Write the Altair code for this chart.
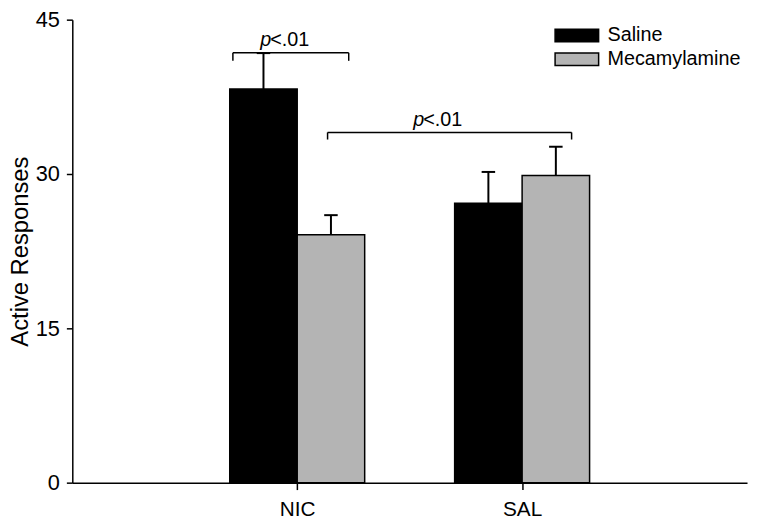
import altair as alt
import pandas as pd

# ---- data ----
groups = ["NIC", "SAL"]
group_pos = [1, 2]
treatments = ["Saline", "Mecamylamine"]
saline_mean = [38.25, 27.15]
saline_sem = [3.5, 3.05]
mecam_mean = [24.1, 29.85]
mecam_sem = [1.9, 2.8]
y_ticks = [0, 15, 30, 45]

bar_width = 0.3
cap_half = 0.03

# significance brackets (x in group-position units, y in response units)
br_x1 = [0.714, 1.135]
br_x2 = [1.229, 2.22]
br_y = [41.78, 34.04]
br_drop = [41.0, 33.35]
sig_x = [0.88, 1.56]
sig_y = [42.45, 34.65]
sig_p = ["p", "p"]
sig_rest = ["<.01", "<.01"]

FONT = "Liberation Sans"

rows = []
for g, p, sm, ss, mm, ms in zip(groups, group_pos, saline_mean, saline_sem, mecam_mean, mecam_sem):
    rows.append(dict(group=g, treatment=treatments[0], x0=p - bar_width, x1=p, xc=p - bar_width / 2,
                     mean=sm, top=sm + ss, base=0))
    rows.append(dict(group=g, treatment=treatments[1], x0=p, x1=p + bar_width, xc=p + bar_width / 2,
                     mean=mm, top=mm + ms, base=0))
df = pd.DataFrame(rows)
df["cl"] = df["xc"] - cap_half
df["cr"] = df["xc"] + cap_half

br = pd.DataFrame(dict(x1=br_x1, x2=br_x2, y=br_y, yd=br_drop))
br_drops = pd.DataFrame(dict(x=br_x1 + br_x2, y=br_y + br_y, yd=br_drop + br_drop))
sig = pd.DataFrame(dict(x=sig_x, y=sig_y, p=sig_p, rest=sig_rest))

xscale = alt.Scale(domain=[0, 3], nice=False, zero=False)
yscale = alt.Scale(domain=[0, 45], nice=False, zero=True)

label_expr = " : ".join(
    [f"datum.value == {p} ? '{g}'" for p, g in zip(group_pos, groups)]
) + " : ''"

xaxis = alt.Axis(values=group_pos, labelExpr=label_expr, title=None, grid=False,
                 domainColor="black", domainWidth=1.5, tickColor="black", tickWidth=1.5,
                 tickSize=7, labelFontSize=21, labelFont=FONT, labelColor="black",
                 labelPadding=9)
yaxis = alt.Axis(values=y_ticks, title="Active Responses", grid=False,
                 domainColor="black", domainWidth=1.5, tickColor="black", tickWidth=1.5,
                 tickSize=6, labelFontSize=22, labelFont=FONT, labelColor="black",
                 labelPadding=7, titleFont=FONT, titleFontSize=24,
                 titleFontWeight="normal", titleColor="black", titlePadding=3)


def X(field):
    return alt.X(field, scale=xscale, axis=xaxis, title=None)


def Y(field):
    return alt.Y(field, scale=yscale, axis=yaxis, title="Active Responses")


bars = alt.Chart(df).mark_bar(stroke="black", strokeWidth=1.5, opacity=1).encode(
    x=X("x0:Q"),
    x2="x1:Q",
    y=Y("mean:Q"),
    y2="base:Q",
    fill=alt.Fill("treatment:N",
                  scale=alt.Scale(domain=treatments, range=["#000000", "#b4b4b4"]),
                  legend=alt.Legend(title=None, orient="none", legendX=498, legendY=4,
                                    symbolType="M-2,-0.57H2V0.57H-2Z", symbolSize=484,
                                    symbolStrokeColor="black", symbolStrokeWidth=1.5,
                                    labelFont=FONT, labelFontSize=20, labelColor="black",
                                    labelOffset=19, rowPadding=2, padding=0)),
)

err = alt.Chart(df).mark_rule(color="black", strokeWidth=2).encode(
    x=X("xc:Q"),
    y=Y("mean:Q"),
    y2="top:Q",
)
caps = alt.Chart(df).mark_rule(color="black", strokeWidth=2).encode(
    x=X("cl:Q"),
    x2="cr:Q",
    y=Y("top:Q"),
)

br_h = alt.Chart(br).mark_rule(color="black", strokeWidth=1.5).encode(
    x=X("x1:Q"),
    x2="x2:Q",
    y=Y("y:Q"),
)
br_v = alt.Chart(br_drops).mark_rule(color="black", strokeWidth=1.5).encode(
    x=X("x:Q"),
    y=Y("y:Q"),
    y2="yd:Q",
)

sig_p_text = alt.Chart(sig).mark_text(align="right", baseline="alphabetic", fontSize=20,
                                      font=FONT, fontStyle="italic", color="black", dx=1).encode(
    x=X("x:Q"),
    y=Y("y:Q"),
    text="p:N",
)
sig_rest_text = alt.Chart(sig).mark_text(align="left", baseline="alphabetic", fontSize=20,
                                         font=FONT, color="black").encode(
    x=X("x:Q"),
    y=Y("y:Q"),
    text="rest:N",
)

chart = alt.layer(bars, err, caps, br_h, br_v, sig_p_text, sig_rest_text).properties(
    width=682,
    height=468,
    autosize=alt.AutoSizeParams(type="none"),
    padding={"left": 65, "top": 9, "right": 2, "bottom": 40},
).configure(background="white").configure_view(stroke=None)

chart.save("out.html", embed_options={"renderer": "svg", "actions": False})
